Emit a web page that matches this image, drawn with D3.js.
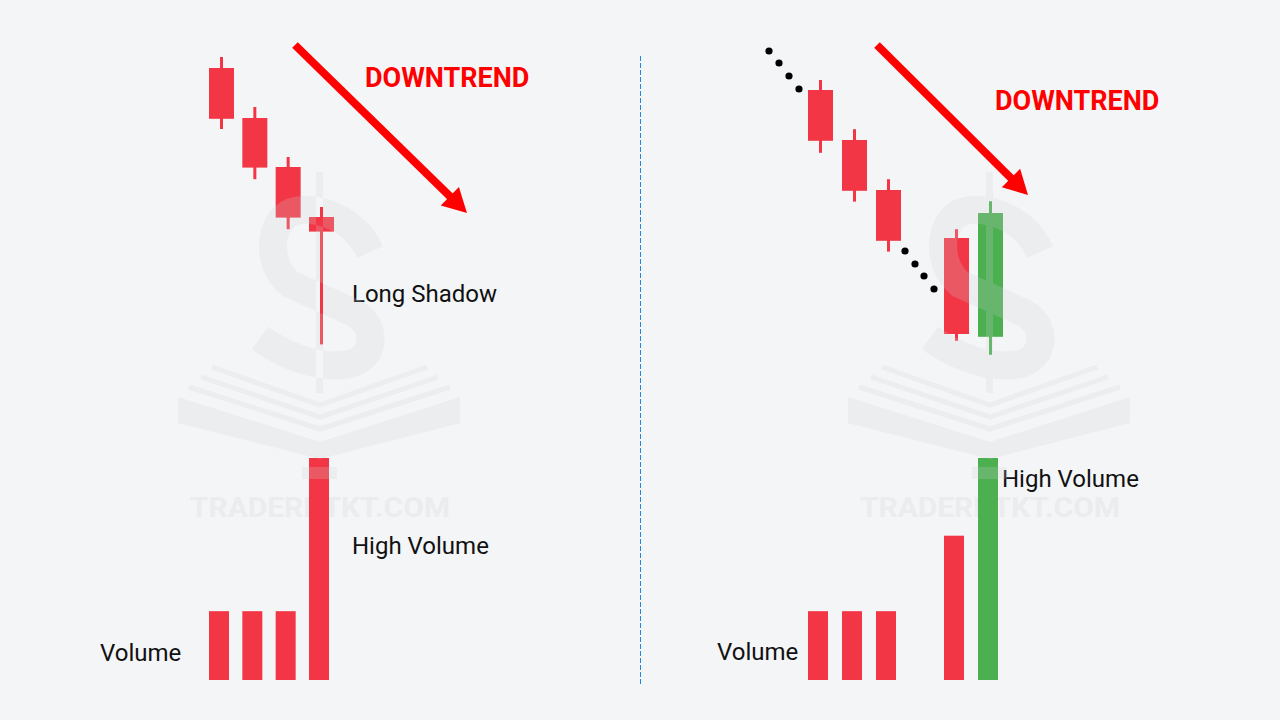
<!DOCTYPE html>
<html><head><meta charset="utf-8">
<script src="https://cdn.jsdelivr.net/npm/d3@7"></script>
<style>html,body{margin:0;padding:0;background:#f4f5f7;} svg{display:block;font-family:Roboto,"Noto Sans",sans-serif;}</style>
</head><body>
<svg id="c" width="1280" height="720"></svg>
<script>
// ---------- DATA ----------
const leftIndex  = [0, 1, 2, 3];
const leftOpen   = [83.0, 70.5, 58.25, 45.75];
const leftHigh   = [85.75, 73.25, 60.75, 48.25];
const leftLow    = [67.75, 55.2, 42.7, 13.9];
const leftClose  = [70.3, 58.1, 45.6, 42.1];
const leftVolume = [31, 31, 31, 100];

const rightIndex  = [0, 1, 2, 4, 5];
const rightOpen   = [77.5, 65.0, 52.5, 40.5, 15.8];
const rightHigh   = [80.0, 67.7, 55.2, 42.7, 49.7];
const rightLow    = [61.8, 49.6, 37.1, 14.8, 11.3];
const rightClose  = [64.8, 52.3, 39.8, 16.5, 46.75];
const rightVolume = [31, 31, 31, 65, 100];

// dotted trend trails (index, price)
const trailIndex = [-1.147, -0.853, -0.559, -0.265, 2.853, 3.147, 3.412, 3.706];
const trailPrice = [87.25, 84.25, 81.0, 77.75, 37.25, 34.0, 31.0, 27.75];

const labelsLeft  = ["DOWNTREND", "Long Shadow", "High Volume", "Volume"];
const labelsRight = ["DOWNTREND", "High Volume", "Volume"];
const watermarkText = "TRADERPTKT.COM";

// ---------- SCALES ----------
const price = d3.scaleLinear().domain([0, 100]).range([400, 0]);
const vol   = d3.scaleLinear().domain([0, 100]).range([680, 458]);
const xL    = d3.scaleLinear().domain([0, 3]).range([209, 309]);
const xR    = d3.scaleLinear().domain([0, 5]).range([808, 978]);

const RED = "#f23645", GREEN = "#4caf50", BODY_W = 25, VOL_W = 20, WICK_W = 3;
const svg = d3.select("#c");
svg.append("rect").attr("width", 1280).attr("height", 720).attr("fill", "#f4f5f7");

const defs = svg.append("defs");
const sPath = "M 370,252 C 355,218 315,204 292,212 C 268,222 266,264 290,284 L 352,312 C 378,324 376,358 350,364 C 320,370 285,356 260,338";
const S_W = 28;

function candles(idx, o, h, l, c, x) {
  return idx.map((d, i) => ({ i: d, o: o[i], h: h[i], l: l[i], c: c[i], x: x(d) }));
}
const L = candles(leftIndex, leftOpen, leftHigh, leftLow, leftClose, xL);
const R = candles(rightIndex, rightOpen, rightHigh, rightLow, rightClose, xR);

// watermark text (below marks)
function wmText(dx) {
  svg.append("text").attr("x", 190 + dx).attr("y", 517)
    .attr("font-size", 28).attr("font-weight", 700).attr("fill", "#ebecee")
    .attr("textLength", 260).attr("lengthAdjust", "spacingAndGlyphs")
    .text(watermarkText);
}
wmText(0); wmText(670);

// divider
svg.append("line").attr("x1", 640.5).attr("x2", 640.5).attr("y1", 56).attr("y2", 685)
  .attr("stroke", "#1e88e5").attr("stroke-width", 1).attr("stroke-dasharray", "5,2");

function drawCandles(data) {
  const g = svg.append("g");
  g.selectAll("rect.wick").data(data).join("rect")
    .attr("x", d => d.x + BODY_W / 2 - WICK_W / 2).attr("width", WICK_W)
    .attr("y", d => price(d.h)).attr("height", d => price(d.l) - price(d.h))
    .attr("fill", d => d.c >= d.o ? GREEN : RED);
  g.selectAll("rect.body").data(data).join("rect")
    .attr("x", d => d.x).attr("width", BODY_W)
    .attr("y", d => price(Math.max(d.o, d.c)))
    .attr("height", d => Math.abs(price(d.o) - price(d.c)))
    .attr("fill", d => d.c >= d.o ? GREEN : RED);
}
function drawVolume(data, v) {
  svg.append("g").selectAll("rect").data(data).join("rect")
    .attr("x", d => d.x).attr("width", VOL_W)
    .attr("y", (d, i) => vol(v[i])).attr("height", (d, i) => vol(0) - vol(v[i]))
    .attr("fill", d => d.c >= d.o ? GREEN : RED);
}
drawCandles(L); drawCandles(R);
drawVolume(L, leftVolume); drawVolume(R, rightVolume);

// dots
svg.append("g").selectAll("circle").data(trailIndex).join("circle")
  .attr("cx", d => xR(d)).attr("cy", (d, i) => price(trailPrice[i])).attr("r", 3.6).attr("fill", "#000");

// arrows
function arrow(x1, y1, x2, y2) {
  const dx = x2 - x1, dy = y2 - y1, len = Math.hypot(dx, dy);
  const ux = dx / len, uy = dy / len, nx = -uy, ny = ux;
  const hl = 24, hw = 13;
  const bx = x2 - hl * ux, by = y2 - hl * uy;
  svg.append("line").attr("x1", x1).attr("y1", y1).attr("x2", bx + ux * 2).attr("y2", by + uy * 2)
    .attr("stroke", "#ff0000").attr("stroke-width", 8);
  svg.append("path").attr("d", `M${x2},${y2}L${bx + hw * nx},${by + hw * ny}L${bx - hw * nx},${by - hw * ny}Z`)
    .attr("fill", "#ff0000");
}
arrow(295, 45, 467, 213);
arrow(877, 45, 1028, 195);

// labels
function label(t, x, y, opts = {}) {
  svg.append("text").attr("x", x).attr("y", y).attr("font-size", opts.size || 24)
    .attr("font-weight", opts.bold ? 700 : 400).attr("fill", opts.fill || "#111").text(t);
}
label(labelsLeft[0], 365, 87, { size: 27, bold: true, fill: "#ff0000" });
label(labelsLeft[1], 352, 302);
label(labelsLeft[2], 352, 554);
label(labelsLeft[3], 100, 661);
label(labelsRight[0], 995, 110, { size: 27, bold: true, fill: "#ff0000" });
label(labelsRight[1], 1002, 487);
label(labelsRight[2], 717, 660);

// watermark logo overlay (on top)
function logo(dx, k) {
  const mBar = defs.append("mask").attr("id", "noBar" + k).attr("maskUnits", "userSpaceOnUse")
    .attr("x", 0).attr("y", 0).attr("width", 1280).attr("height", 720);
  mBar.append("rect").attr("width", 1280).attr("height", 720).attr("fill", "#fff");
  mBar.append("rect").attr("x", 316 + dx).attr("y", 172).attr("width", 7).attr("height", 221).attr("fill", "#000");
  const mS = defs.append("mask").attr("id", "noS" + k).attr("maskUnits", "userSpaceOnUse")
    .attr("x", 0).attr("y", 0).attr("width", 1280).attr("height", 720);
  mS.append("rect").attr("width", 1280).attr("height", 720).attr("fill", "#fff");
  mS.append("path").attr("d", sPath).attr("transform", `translate(${dx},0)`)
    .attr("fill", "none").attr("stroke", "#000").attr("stroke-width", S_W);

  const col = "rgb(206,208,212)", op = 0.22;
  const g = svg.append("g");
  g.append("path").attr("d", sPath).attr("transform", `translate(${dx},0)`)
    .attr("fill", "none").attr("stroke", col).attr("stroke-opacity", op).attr("stroke-width", S_W)
    .attr("mask", `url(#noBar${k})`);
  g.append("rect").attr("x", 316 + dx).attr("y", 172).attr("width", 7).attr("height", 221)
    .attr("fill", col).attr("fill-opacity", op).attr("mask", `url(#noS${k})`);
  const chev = [[212, 367, 320, 405, 427, 367], [201, 377, 320, 417, 438, 377], [189, 387, 320, 429, 450, 387]];
  chev.forEach(c => {
    g.append("path").attr("d", `M${c[0] + dx},${c[1]}L${c[2] + dx},${c[3]}L${c[4] + dx},${c[5]}`)
      .attr("fill", "none").attr("stroke", col).attr("stroke-opacity", op).attr("stroke-width", 5);
  });
  g.append("path").attr("d", `M${178 + dx},397L${320 + dx},442L${460 + dx},397L${460 + dx},423L${320 + dx},459L${178 + dx},423Z`)
    .attr("fill", col).attr("fill-opacity", op);
  g.append("rect").attr("x", 302 + dx).attr("y", 467).attr("width", 35).attr("height", 12)
    .attr("fill", col).attr("fill-opacity", op);
}
logo(0, 0); logo(670, 1);
</script>
</body></html>
